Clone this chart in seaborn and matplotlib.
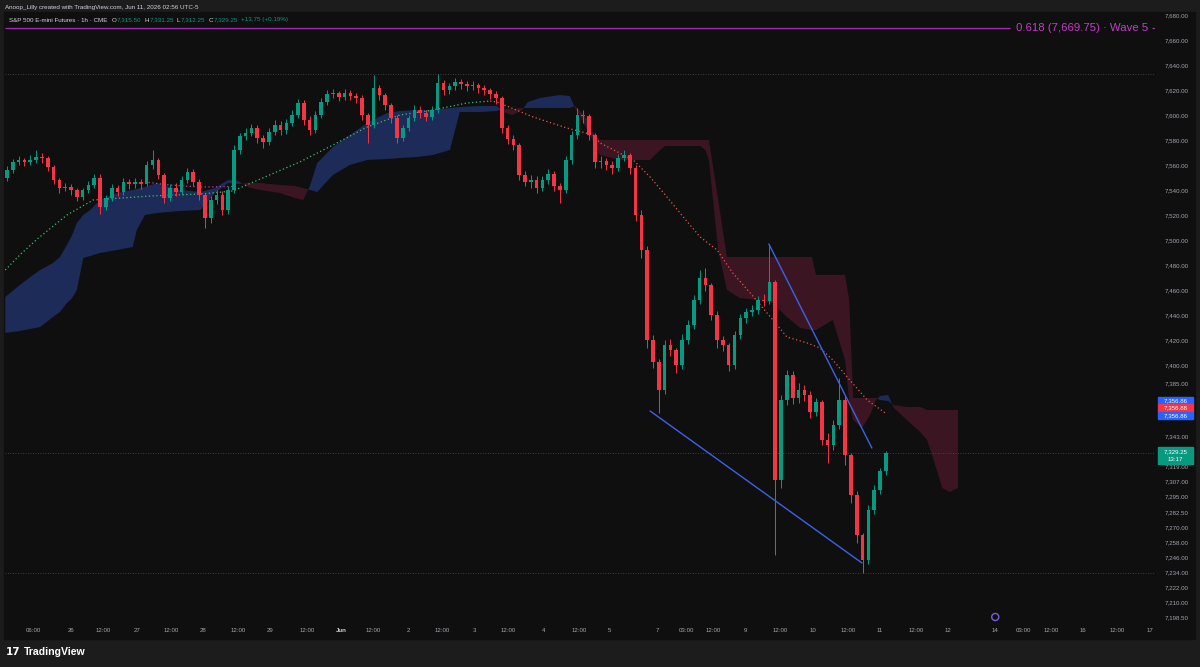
import numpy as np
import matplotlib
matplotlib.use("Agg")
import matplotlib.pyplot as plt
import matplotlib.transforms as mtransforms
from matplotlib.patches import Rectangle
import seaborn as sns

# S&P 500 E-mini futures, 2h candles (open = previous close)
first_open = 7549.5
closes = [7556, 7562.5, 7564, 7562.5, 7564, 7566.5, 7565.5, 7558.5, 7548, 7541.5,
          7542.5, 7540, 7534.5, 7540, 7544, 7549.5, 7526.5, 7533.5, 7541.5, 7538.5,
          7546.5, 7544.75, 7546.5, 7545, 7560, 7564, 7552, 7533.5, 7541.5, 7538.5,
          7548, 7554.5, 7546.5, 7536, 7517.5, 7532, 7536, 7524, 7540, 7572,
          7583, 7585.5, 7589.5, 7581.5, 7578.5, 7586.5, 7592, 7588, 7593.5, 7600,
          7609.5, 7596, 7588, 7600, 7610.5, 7617, 7617.5, 7614.5, 7617.5, 7615,
          7613.5, 7600, 7592, 7621.5, 7616, 7608, 7597.5, 7581.5, 7589.5, 7597.5,
          7604, 7601.5, 7598.5, 7604, 7625.5, 7620, 7623, 7626.5, 7625, 7623,
          7624, 7621.5, 7620, 7616.75, 7613.5, 7589.5, 7580.75, 7576, 7552, 7546.5,
          7548, 7541.5, 7548, 7553, 7543, 7540, 7564, 7584, 7600, 7599,
          7584, 7562.5, 7563.5, 7560, 7557.5, 7565.5, 7568, 7557.5, 7520, 7492,
          7420, 7402.5, 7380, 7416, 7412, 7400, 7420, 7432, 7452, 7469.5,
          7464, 7440, 7420, 7416, 7400, 7424, 7437.5, 7442.5, 7444, 7452,
          7451, 7466.5, 7308, 7372, 7392, 7373.5, 7380, 7376, 7362.5, 7370.5,
          7340, 7336, 7352, 7372, 7328, 7296, 7264, 7244, 7284, 7300,
          7315.5, 7329.25]
highs = [7559, 7565, 7567, 7566, 7568, 7572, 7570, 7567, 7560, 7550,
         7546, 7545, 7542, 7542, 7547, 7553, 7553, 7536, 7545, 7544,
         7550, 7549, 7550, 7549, 7563, 7572, 7566, 7554, 7545, 7546,
         7551, 7558, 7557, 7549, 7538, 7535, 7540, 7539, 7543, 7576,
         7586, 7590, 7593, 7592, 7584, 7590, 7596, 7595, 7597, 7604,
         7613, 7612, 7599, 7603, 7614, 7620, 7621, 7619, 7621, 7620,
         7618, 7616, 7602, 7632, 7624, 7618, 7610, 7600, 7592, 7600,
         7608, 7607, 7604, 7607, 7632.75, 7628, 7626, 7630, 7629, 7627,
         7627, 7626, 7624, 7622, 7619, 7615, 7592, 7584, 7578, 7555,
         7552, 7551, 7551, 7557, 7555, 7546, 7567, 7587, 7606, 7604,
         7601, 7586, 7567, 7566, 7563, 7569, 7572, 7570, 7560, 7524,
         7495, 7424, 7405, 7420, 7421, 7414, 7425, 7436, 7456, 7476,
         7478, 7466, 7443, 7423, 7418, 7427, 7441, 7446, 7448, 7455,
         7457, 7496, 7468, 7376, 7396, 7395, 7386, 7384, 7379, 7374,
         7372, 7346, 7356, 7390, 7375, 7330, 7299, 7266, 7288, 7304,
         7318, 7331.25]
lows = [7547, 7554, 7560, 7559, 7560, 7562, 7562, 7555, 7545, 7538,
        7539, 7536, 7531, 7532, 7538, 7542, 7521, 7524, 7531, 7535,
        7536, 7541, 7542, 7541, 7543, 7557, 7549, 7530, 7531, 7535,
        7536, 7546, 7543, 7532, 7510, 7514, 7529, 7520, 7521, 7538,
        7569, 7580, 7583, 7578, 7574, 7576, 7584, 7584, 7585, 7591,
        7598, 7592, 7584, 7586, 7598, 7608, 7614, 7611, 7612, 7612,
        7610, 7596, 7578, 7590, 7612, 7604, 7594, 7578, 7579, 7587,
        7595, 7598, 7595, 7596, 7602, 7616, 7617, 7620, 7621, 7619,
        7620, 7618, 7616, 7613, 7609, 7586, 7577, 7572, 7548, 7543,
        7542, 7538, 7539, 7545, 7539, 7530, 7538, 7561, 7581, 7594,
        7580, 7558, 7558, 7556, 7553, 7555, 7563, 7553, 7515, 7486,
        7414, 7398, 7362, 7377, 7407, 7394, 7397, 7417, 7429, 7449,
        7459, 7436, 7414, 7411, 7395, 7397, 7421, 7434, 7439, 7441,
        7447, 7449, 7248, 7302, 7368, 7369, 7370, 7371, 7358, 7359,
        7336, 7322, 7332, 7349, 7320, 7290, 7258, 7234, 7241, 7281,
        7297, 7312.25]

# cloud (bar index, leading span A, leading span B)
cloud_x = [-0.3, 2.2, 4.0, 5.7, 7.9, 9.1, 10.3, 11.2, 12.0, 13.1,
           14.3, 16.0, 18.9, 21.6, 22.3, 23.7, 25.8, 29.7, 33.2, 34.0,
           35.7, 38.0, 39.7, 41.4, 43.5, 46.9, 49.5, 50.9, 52.1, 53.3,
           56.0, 58.9, 61.9, 65.3, 67.5, 70.4, 73.2, 76.1, 77.8, 81.3,
           84.2, 85.2, 86.8, 88.5, 89.5, 91.6, 95.0, 96.7, 97.6, 99.3,
           101.0, 101.9, 105.3, 110.5, 112.2, 113.1, 119.1, 120.0, 120.6, 122.2,
           123.7, 125.9, 129.4, 131.6, 134.0, 136.3, 138.3, 139.0, 141.9, 144.0,
           144.7, 145.4, 146.9, 148.3, 149.3, 150.0, 151.4, 152.4, 154.6, 156.9,
           158.1, 159.5, 160.7, 162.0, 163.4]
span_a = [7454.4, 7464, 7470.4, 7476, 7481.6, 7486.4, 7496, 7504, 7513.6, 7520,
          7524, 7532, 7537.6, 7540, 7540.8, 7542.4, 7545.6, 7540, 7538.4, 7539.2,
          7541.6, 7548, 7547.2, 7542.4, 7540, 7537.6, 7533.6, 7532, 7544, 7561.6,
          7574.4, 7584, 7593.6, 7601.6, 7603.2, 7604, 7604, 7605.6, 7606.4, 7607.2,
          7607.2, 7602.4, 7600, 7604, 7610.4, 7613.6, 7616, 7615.2, 7605.6, 7592,
          7576, 7568, 7564, 7564, 7572, 7575.2, 7575.2, 7572, 7564, 7492,
          7460, 7453.6, 7452, 7449.6, 7438.4, 7429.6, 7428, 7428, 7436, 7404,
          7372, 7356, 7349.6, 7360, 7372, 7375.2, 7376, 7365.6, 7356, 7346.4,
          7340, 7320, 7301.6, 7298.4, 7301.6]
span_b = [7425.6, 7427.2, 7428.8, 7430.4, 7438.4, 7442.4, 7449.6, 7453.6, 7460, 7485.6,
          7487.2, 7489.6, 7492, 7494.4, 7508, 7520, 7521.6, 7523.2, 7524, 7528,
          7537.6, 7545.6, 7544.8, 7545.6, 7545.6, 7544, 7543.2, 7541.6, 7540, 7538.4,
          7552, 7560, 7564, 7564.8, 7565.6, 7566.4, 7568, 7572, 7602.4, 7602.4,
          7603.2, 7604.8, 7604.8, 7605.6, 7605.6, 7605.6, 7605.6, 7605.6, 7607.2, 7599.2,
          7584, 7580, 7580, 7580, 7580, 7580, 7580, 7580, 7580, 7532,
          7486.4, 7486.4, 7486.4, 7486.4, 7486.4, 7486.4, 7486.4, 7472, 7472, 7472,
          7452, 7373.6, 7373.6, 7373.6, 7373.6, 7372, 7371.2, 7368, 7366.4, 7366.4,
          7364, 7364, 7364, 7364, 7364]

# dotted moving average (green while rising, red while falling)
ma_up_x = [-0.3, 2.2, 5.2, 10.3, 14.8, 24.6, 33.2, 38.8, 44.7, 50.3, 56.0, 61.9, 67.5, 73.2, 79.0, 83.0]
ma_up_y = [7476, 7488, 7500.8, 7520, 7532, 7535.2, 7536.8, 7539.2, 7551.2, 7562.4,
           7576, 7590.4, 7600, 7604, 7609.6, 7611.2]
ma_dn_x = [83.0, 84.2, 90.4, 96.2, 100.7, 101.9, 107.6, 110.5, 113.4, 116.2, 119.1,
           122.0, 124.7, 127.7, 131.6, 134.0, 137.5, 139.7, 141.9, 144.8, 147.8, 150.9]
ma_dn_y = [7611.2, 7610.4, 7598.4, 7589.6, 7584, 7577.6, 7564, 7550.4, 7534.4, 7518.4, 7502.4,
           7492, 7473.6, 7457.6, 7436, 7422.4, 7417.6, 7413.6, 7404, 7388, 7372, 7361.6]
base_x = [23.7, 28.0, 33.2, 38.8]
base_y = [7546.4, 7544, 7542.4, 7542.8]

# falling wedge drawn on the chart
wedge_low_x = [110.5, 146.9]
wedge_low_y = [7363.2, 7241.6]
wedge_high_x = [130.9, 148.6]
wedge_high_y = [7496.8, 7333.6]

wave_level = 7669.75
wave_label = "0.618 (7,669.75) · Wave 5"
wave_end = 172.3

price_ticks = [7680, 7660, 7640, 7620, 7600, 7580, 7560, 7540, 7520, 7500, 7480, 7460,
               7440, 7420, 7400, 7385, 7343, 7331, 7319, 7307, 7295, 7282.5, 7270,
               7258, 7246, 7234, 7222, 7210, 7198.5]
time_pos = [4.5, 11.0, 16.6, 22.4, 28.2, 33.7, 39.7, 45.2, 51.5, 57.4, 63.0, 68.9,
            74.8, 80.4, 86.2, 92.2, 98.3, 103.5, 111.7, 116.8, 121.3, 126.8, 132.8,
            138.5, 144.5, 150.0, 156.2, 161.7, 169.8, 174.7, 179.4, 184.9, 190.7, 196.4]
time_labels = ["06:00", "26", "12:00", "27", "12:00", "28", "12:00", "29", "12:00", "Jun",
               "12:00", "2", "12:00", "3", "12:00", "4", "12:00", "5", "7", "03:00",
               "12:00", "9", "12:00", "10", "12:00", "11", "12:00", "12", "14", "03:00",
               "12:00", "16", "12:00", "17"]

ma_tags = ["7,356.86", "7,356.88", "7,356.86"]
ma_tag_pos = [7371.6, 7365.6, 7359.6]
ma_tag_cols = ["#2962ff", "#f23645", "#2962ff"]
countdown = "13:17"

UP, DOWN = "#089981", "#f23645"
TXT = "#a3a6af"

sns.set_theme(style="dark", rc={"axes.facecolor": "#0f0f0f", "figure.facecolor": "#1c1c1c"})
plt.rcParams["font.family"] = ["Liberation Sans", "DejaVu Sans"]

fig = plt.figure(figsize=(12, 6.67), dpi=100)
fig.add_artist(Rectangle((4 / 1200, 28 / 667), 1191 / 1200, 627 / 667,
                         transform=fig.transFigure, color="#0f0f0f", zorder=-5))
ax = fig.add_axes([5 / 1200, 45 / 667, 1150 / 1200, 609 / 667])
ax.set_facecolor("#0f0f0f")
for s in ax.spines.values():
    s.set_visible(False)

# cloud
a = np.array(span_a)
b = np.array(span_b)
ax.fill_between(cloud_x, a, b, where=a >= b, interpolate=True, color="#1c2b58", lw=0, zorder=1)
ax.fill_between(cloud_x, a, b, where=a < b, interpolate=True, color="#3c1522", lw=0, zorder=1)

# reference lines
ax.axhline(max(highs), color="#4a4d55", lw=0.6, ls=(0, (1, 2)), zorder=2)
ax.axhline(min(lows), color="#4a4d55", lw=0.6, ls=(0, (1, 2)), zorder=2)
ax.axhline(closes[-1], color="#4a4d55", lw=0.6, ls=(0, (1, 2)), zorder=2)

# dotted averages
sns.lineplot(x=ma_up_x, y=ma_up_y, ax=ax, color="#3fbf6f", lw=0.9, ls=(0, (1, 2)),
             sort=False, estimator=None, zorder=2)
sns.lineplot(x=ma_dn_x, y=ma_dn_y, ax=ax, color="#e8594a", lw=0.9, ls=(0, (1, 2)),
             sort=False, estimator=None, zorder=2)
sns.lineplot(x=base_x, y=base_y, ax=ax, color="#c2409a", lw=0.9, ls=(0, (1, 2)),
             sort=False, estimator=None, zorder=2)

# candles
n = len(closes)
idx = np.arange(n)
c = np.array(closes)
o = np.array([first_open] + closes[:-1])
col = np.where(c >= o, UP, DOWN)
ax.vlines(idx, lows, highs, colors=col, lw=0.7, zorder=3)
ax.bar(idx, np.maximum(np.abs(c - o), 0.7), bottom=np.minimum(o, c), width=0.62,
       color=col, lw=0, zorder=4)

# wedge lines
sns.lineplot(x=wedge_low_x, y=wedge_low_y, ax=ax, color="#3a63e8", lw=1.0, sort=False, zorder=5)
sns.lineplot(x=wedge_high_x, y=wedge_high_y, ax=ax, color="#3a63e8", lw=1.0, sort=False, zorder=5)

xlim = (-0.344, 197.25)
ax.set_xlim(*xlim)
ax.set_ylim(7194.4, 7681.6)

# fib level
ax.hlines(wave_level, xlim[0], wave_end, color="#a22fb2", lw=0.9, zorder=5)
ax.hlines(wave_level, 196.7, xlim[1], color="#a22fb2", lw=0.9, zorder=5)
ax.text(wave_end + 1.1, wave_level, wave_label, color="#c53cc9", fontsize=8.2, va="center",
        ha="left", zorder=6)

# event marker
ax.scatter([time_pos[28]], [7198.4], s=26, facecolors="none", edgecolors="#7c5ce0",
           lw=1.0, clip_on=False, zorder=6)

# axes
ax.yaxis.tick_right()
ax.set_yticks(price_ticks)
ax.set_yticklabels([f"{v:,.2f}" for v in price_ticks])
ax.set_xticks(time_pos)
ax.set_xticklabels(time_labels)
ax.tick_params(axis="both", length=0, labelsize=4.4, colors=TXT)
ax.tick_params(axis="y", pad=7)
ax.tick_params(axis="x", pad=4.5)
for lab in ax.get_xticklabels():
    if lab.get_text() == "Jun":
        lab.set_fontweight("bold")
        lab.set_color("#d1d4dc")
ax.set_xlabel("")
ax.set_ylabel("")
ax.grid(False)

# price tags on the axis
trans = mtransforms.blended_transform_factory(ax.transAxes, ax.transData)
tx0, tw = 1.0026, 0.0304
for lab, pos, cc in zip(ma_tags, ma_tag_pos, ma_tag_cols):
    ax.add_patch(Rectangle((tx0, pos - 3.0), tw, 6.0, transform=trans, color=cc,
                           clip_on=False, zorder=10))
    ax.text(tx0 + tw / 2, pos, lab, transform=trans, color="white", fontsize=4.4,
            ha="center", va="center", clip_on=False, zorder=11)
last = closes[-1]
ax.add_patch(Rectangle((tx0, last - 8.4), tw, 13.6, transform=trans, color=UP,
                       clip_on=False, zorder=10))
ax.text(tx0 + tw / 2, last + 1.0, f"{last:,.2f}", transform=trans, color="white",
        fontsize=4.4, ha="center", va="center", clip_on=False, zorder=11)
ax.text(tx0 + tw / 2, last - 5.0, countdown, transform=trans, color="white",
        fontsize=4.4, ha="center", va="center", clip_on=False, zorder=11)

# header texts
fig.text(5 / 1200, 1 - 7 / 667, "Anoop_Lilly created with TradingView.com, Jun 11, 2026 02:56 UTC-5",
         color="#d1d4dc", fontsize=4.5, va="center", ha="left")
renderer = fig.canvas.get_renderer()
parts = [("S&P 500 E-mini Futures · 1h · CME", "#d1d4dc", 4),
         ("O", "#d1d4dc", 0.6), ("7,315.50", UP, 3),
         ("H", "#d1d4dc", 0.6), ("7,331.25", UP, 3),
         ("L", "#d1d4dc", 0.6), ("7,312.25", UP, 3),
         ("C", "#d1d4dc", 0.6), ("7,329.25", UP, 3),
         ("+13.75 (+0.19%)", UP, 0)]
xpos = 9
for s, cc, gap in parts:
    t = fig.text(xpos / 1200, 1 - 20 / 667, s, color=cc, fontsize=4.5, va="center", ha="left")
    bb = t.get_window_extent(renderer)
    xpos = bb.x1 + gap

# footer logo
fig.text(6 / 1200, 1 - 652 / 667, "17", color="white", fontsize=7.5, fontweight="heavy",
         va="center", ha="left", family="DejaVu Sans")
fig.text(24 / 1200, 1 - 652 / 667, "TradingView", color="white", fontsize=7.6,
         fontweight="bold", va="center", ha="left")

fig.savefig("out.png", dpi=100, facecolor=fig.get_facecolor())
